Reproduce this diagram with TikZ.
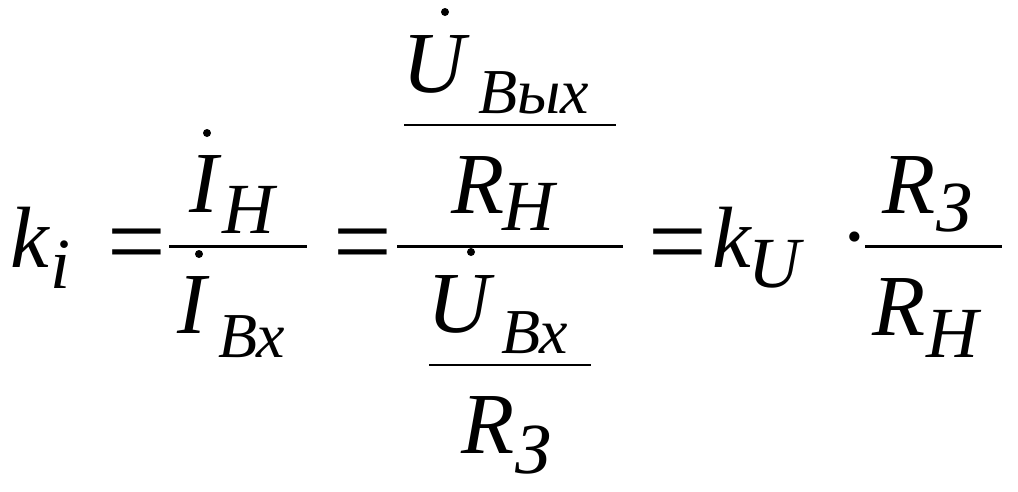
\documentclass[tikz,border=0pt]{standalone}
\usepackage{fontspec}
\setmainfont{Liberation Serif}
\tikzset{
  g/.style={inner sep=0pt, outer sep=0pt, anchor=base west},
  mainL/.style={g, font={\itshape\fontsize{87}{87}\selectfont}},
  subL/.style={g, font={\itshape\fontsize{72}{72}\selectfont}},
  subS/.style={g, font={\itshape\fontsize{64}{64}\selectfont}},
  eqs/.style={inner sep=0pt, outer sep=0pt, anchor=base, font={\fontsize{104}{104}\selectfont}},
  thickbar/.style={line width=3pt},
  thinbar/.style={line width=1.5pt},
  overdot/.style={fill=black}
}
\begin{document}
\begin{tikzpicture}[x=1pt,y=-1pt]
\useasboundingbox (0,0) rectangle (1018,491);
% k_i
\node[mainL] (k1) at (10,267) {k};
\node[subL] (i1) at (50,288) {i};
\node[eqs] (eq1) at (136.5,276) {=};
% I_H / I_Bx
\node[mainL] (IH) at (189,212) {I};
\node[subL] (H1) at (222,233) {Н};
\node[mainL] (IB) at (177,333) {I};
\node[subS] (Bx1) at (218,357) {Вх};
\coordinate (f1l) at (169,246); \coordinate (f1r) at (307,246);
\draw[thickbar] (f1l) -- (f1r);
\fill[overdot] (207,133) circle (4);
\fill[overdot] (199,254) circle (4);
\node[eqs] (eq2) at (363,276) {=};
% big fraction
\node[mainL] (U1) at (402,92) {U};
\node[subS] (Bvyh) at (478,113) {Вых};
\coordinate (f2l) at (404,125); \coordinate (f2r) at (616,125);
\draw[thinbar] (f2l) -- (f2r);
\node[mainL] (R1) at (451,213) {R};
\node[subL] (H2) at (502,230) {Н};
\coordinate (f3l) at (397,246); \coordinate (f3r) at (623,246);
\draw[thickbar] (f3l) -- (f3r);
\node[mainL] (U2) at (427,332) {U};
\node[subS] (Bx2) at (501,353) {Вх};
\coordinate (f4l) at (429,365); \coordinate (f4r) at (591,365);
\draw[thinbar] (f4l) -- (f4r);
\node[mainL] (R2) at (461,453) {R};
\node[subL] (Z1) at (515,473) {З};
\fill[overdot] (445,12) circle (4);
\fill[overdot] (471,252) circle (4);
% = k_U . R_3/R_H
\node[eqs] (eq3) at (678,276) {=};
\node[mainL] (k2) at (712,267) {k};
\node[subL] (U3) at (748,287) {U};
\node[inner sep=0pt, anchor=base, font={\fontsize{86}{86}\selectfont}] (cd) at (855,265) {·};
\coordinate (f5l) at (865,246); \coordinate (f5r) at (1002,246);
\draw[thickbar] (f5l) -- (f5r);
\node[mainL] (R3) at (882,213) {R};
\node[subL] (Z2) at (936,231) {З};
\node[mainL] (R4) at (872,335) {R};
\node[subL] (H3) at (926,357) {Н};
\end{tikzpicture}
\end{document}
